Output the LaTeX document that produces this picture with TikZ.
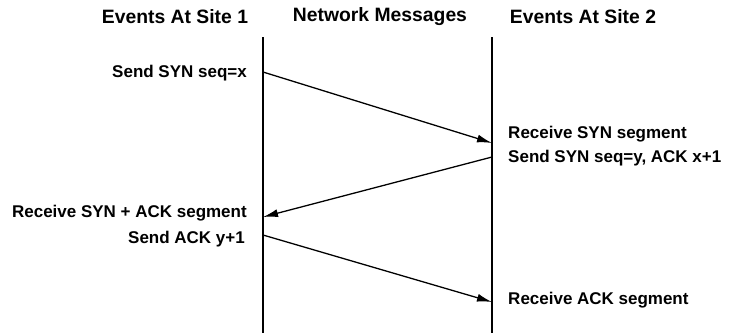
\documentclass[tikz,border=0pt]{standalone}
\usepackage{fontspec}
\setmainfont{Liberation Sans}
\usetikzlibrary{arrows.meta,positioning,calc}

\begin{document}
\begin{tikzpicture}[x=0.03cm,y=-0.03cm, every node/.style={font=\bfseries\fontsize{14.5}{16}\selectfont,inner sep=0pt}]
  \useasboundingbox (0,0) rectangle (735,333);
  % headers
  \node[font=\bfseries\fontsize{16.5}{18}\selectfont] (h1) at (175,17) {Events At Site 1};
  \node[font=\bfseries\fontsize{16.5}{18}\selectfont] (h2) at (380,17) {Network Messages};
  \node[font=\bfseries\fontsize{16.5}{18}\selectfont] (h3) at (583,17) {Events At Site 2};
  % time lines
  \coordinate (s1top) at (263,37); \coordinate (s1bot) at (263,333);
  \coordinate (s2top) at (492,37); \coordinate (s2bot) at (492,333);
  \draw[line width=1.1pt] (s1top)--(s1bot);
  \draw[line width=1.1pt] (s2top)--(s2bot);
  % message points
  \coordinate (m1a) at (263,72);  \coordinate (m1b) at (492,143);
  \coordinate (m2a) at (492,157); \coordinate (m2b) at (263,217);
  \coordinate (m3a) at (263,235); \coordinate (m3b) at (492,302);
  % labels
  \node[anchor=east] (l1) at (247,73) {Send SYN seq=x};
  \node[anchor=west] (r1) at (508,134) {Receive SYN segment};
  \node[anchor=west] (r2) at (508,158) {Send SYN seq=y, ACK x+1};
  \node[anchor=east] (l2) at (247,213) {Receive SYN + ACK segment};
  \node[anchor=east] (l3) at (245,239) {Send ACK y+1};
  \node[anchor=west] (r3) at (508,300) {Receive ACK segment};
  \foreach \x/\y in {m1a/m1b,m2a/m2b,m3a/m3b}{\draw[-{Latex[length=4.5mm,width=2.4mm]},line width=1.1pt] (\x)--(\y);}
\end{tikzpicture}
\end{document}
